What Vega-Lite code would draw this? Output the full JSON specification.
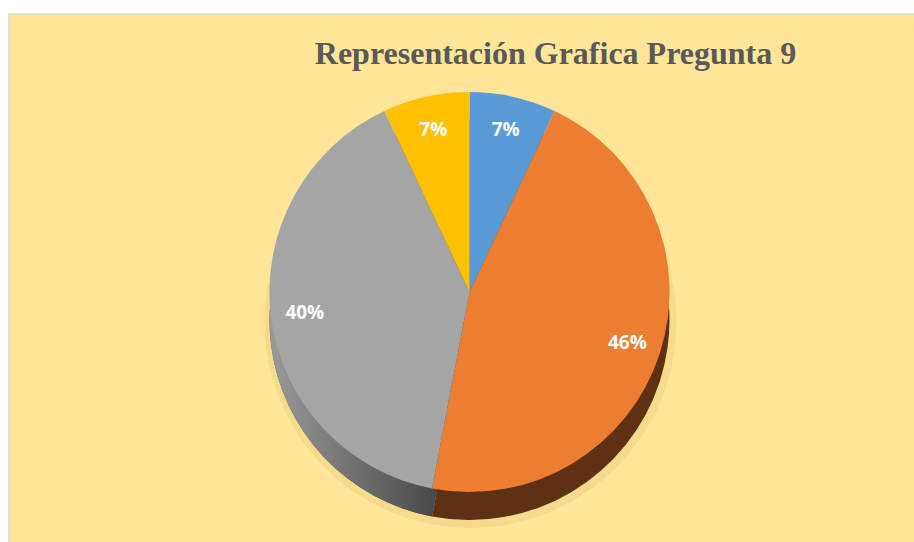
{
  "$schema": "https://vega.github.io/schema/vega-lite/v6.json",
  "width": 914,
  "height": 542,
  "autosize": {"type": "fit", "contains": "padding"},
  "padding": {"left": 9, "top": 14, "right": -2, "bottom": -2},
  "background": "white",
  "view": {"fill": "#FFE699", "stroke": "#D9D9D9", "strokeWidth": 1.5},
  "title": {
    "text": "Representación Grafica Pregunta 9",
    "font": "Liberation Serif",
    "fontSize": 32,
    "fontWeight": "bold",
    "color": "#595959",
    "anchor": "middle",
    "dx": 93,
    "baseline": "alphabetic",
    "offset": -82
  },
  "data": {
    "values": [
      {"k": 1, "cat": "1", "value": 0.07},
      {"k": 2, "cat": "2", "value": 0.46},
      {"k": 3, "cat": "3", "value": 0.40},
      {"k": 4, "cat": "4", "value": 0.07}
    ]
  },
  "layer": [
    {
      "mark": {"type": "arc", "outerRadius": 206, "xOffset": 8, "yOffset": 43, "fill": "#E9CB7A", "opacity": 0.4},
      "encoding": {
        "theta": {"field": "value", "type": "quantitative", "stack": true},
        "order": {"field": "k", "type": "quantitative"}
      }
    },
    {
      "mark": {"type": "arc", "outerRadius": 200, "xOffset": 7, "yOffset": 41},
      "encoding": {
        "theta": {"field": "value", "type": "quantitative", "stack": true},
        "order": {"field": "k", "type": "quantitative"},
        "color": {
          "field": "cat",
          "type": "nominal",
          "scale": {"domain": ["1", "2", "3", "4"], "range": ["#2E5E8A", "#5E3114", "#555555", "#8A6800"]},
          "legend": null
        }
      }
    },
    {
      "mark": {
        "type": "arc", "outerRadius": 200, "xOffset": 7, "yOffset": 41,
        "fill": {
          "gradient": "linear", "x1": 0, "y1": 0, "x2": 1, "y2": 0,
          "stops": [{"offset": 0, "color": "#9A9A9A"}, {"offset": 0.85, "color": "#474747"}]
        }
      },
      "encoding": {
        "theta": {"field": "value", "type": "quantitative", "stack": true},
        "order": {"field": "k", "type": "quantitative"},
        "opacity": {"condition": {"test": "datum.cat == '3'", "value": 1}, "value": 0}
      }
    },
    {
      "mark": {"type": "arc", "outerRadius": 200, "xOffset": 7, "yOffset": 13},
      "encoding": {
        "theta": {"field": "value", "type": "quantitative", "stack": true},
        "order": {"field": "k", "type": "quantitative"},
        "color": {
          "field": "cat",
          "type": "nominal",
          "scale": {"domain": ["1", "2", "3", "4"], "range": ["#5B9BD5", "#ED7D31", "#A5A5A5", "#FFC000"]},
          "legend": null
        }
      }
    },
    {
      "mark": {"type": "text", "radius": 166, "xOffset": 7, "yOffset": 13, "font": "Open Sans", "fontWeight": "bold", "fontSize": 19, "fill": "white"},
      "encoding": {
        "theta": {"field": "value", "type": "quantitative", "stack": true},
        "order": {"field": "k", "type": "quantitative"},
        "text": {"field": "value", "type": "quantitative", "format": ".0%"}
      }
    }
  ],
  "resolve": {"scale": {"color": "independent"}}
}
